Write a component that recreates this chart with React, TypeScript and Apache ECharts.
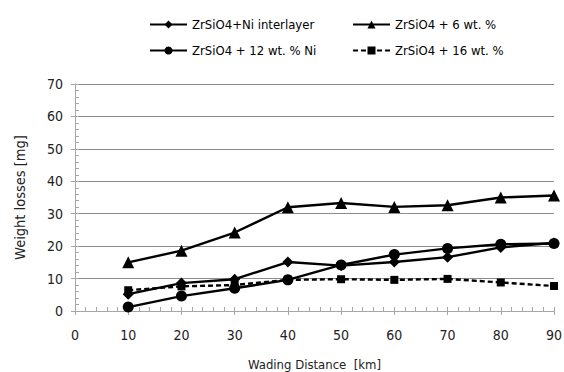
import React, { useEffect, useRef } from "react";
import * as echarts from "echarts";

const distances = [10, 20, 30, 40, 50, 60, 70, 80, 90];
const niInterlayer = [5.2, 8.6, 9.8, 15.1, 14.0, 15.1, 16.6, 19.6, 21.0];
const wt6 = [15.0, 18.6, 24.2, 32.0, 33.3, 32.1, 32.6, 35.0, 35.6];
const wt12Ni = [1.2, 4.6, 7.0, 9.6, 14.2, 17.4, 19.3, 20.6, 20.8];
const wt16 = [6.4, 7.6, 8.0, 9.6, 9.8, 9.6, 9.9, 8.8, 7.7];

const names = [
  "ZrSiO4+Ni interlayer",
  "ZrSiO4 + 6 wt. %",
  "ZrSiO4 + 12 wt. % Ni",
  "ZrSiO4 + 16 wt. %",
];

const FONT = "'Liberation Sans Narrow', 'DejaVu Sans Condensed', 'Liberation Sans', sans-serif";

export default function App() {
  const ref = useRef<HTMLDivElement>(null);
  useEffect(() => {
    if (!ref.current) return;
    const chart = echarts.init(ref.current, undefined, { renderer: "svg" });
    const pts = (arr: number[]) => distances.map((d, i) => [d, arr[i]]);
    const mk = (name: string, data: number[], symbol: string, size: number, dashed = false) => ({
      type: "line",
      name,
      data: pts(data),
      symbol,
      symbolSize: size,
      showSymbol: true,
      lineStyle: { color: "#000", width: 2.4, type: dashed ? [5, 3] : "solid" },
      itemStyle: { color: "#000" },
      xAxisIndex: 0,
      yAxisIndex: 0,
    });
    const legendBase = {
      orient: "horizontal",
      itemWidth: 37,
      itemHeight: 10,
      itemGap: 4,
      textStyle: { fontFamily: FONT, fontSize: 13, color: "#000" },
    };
    const axisGray = "#a6a6a6";
    chart.setOption({
      animation: false,
      grid: { left: 75, right: 10, top: 84, bottom: 61, outerBoundsMode: "none", containLabel: false },
      legend: [
        { ...legendBase, left: 144, top: 13, data: [names[0]] },
        { ...legendBase, left: 347, top: 13, data: [names[1]] },
        { ...legendBase, left: 144, top: 39, data: [names[2]] },
        { ...legendBase, left: 347, top: 39, data: [names[3]] },
      ],
      xAxis: [
        {
          type: "value",
          min: 0,
          max: 90,
          interval: 10,
          name: "Wading Distance  [km]",
          nameLocation: "middle",
          nameGap: 47,
          nameTextStyle: { fontFamily: FONT, fontSize: 13, color: "#222" },
          axisLine: { lineStyle: { color: axisGray, width: 1 } },
          axisTick: { show: true, length: 4, lineStyle: { color: axisGray } },
          axisLabel: { fontFamily: FONT, fontSize: 14, color: "#222", margin: 17 },
          splitLine: { show: false },
        },
        {
          type: "value",
          min: 0,
          max: 90,
          interval: 10,
          position: "bottom",
          axisLine: { show: false },
          axisTick: { show: true, inside: true, length: 4, lineStyle: { color: axisGray } },
          minorTick: { show: true, splitNumber: 5, length: 4, lineStyle: { color: axisGray } },
          axisLabel: { show: false },
          splitLine: { show: false },
        },
      ],
      yAxis: [
        {
          type: "value",
          min: 0,
          max: 70,
          interval: 10,
          name: "Weight losses [mg]",
          nameLocation: "middle",
          nameGap: 48,
          nameTextStyle: { fontFamily: FONT, fontSize: 14.5, color: "#222" },
          axisLine: { show: true, lineStyle: { color: axisGray, width: 1 } },
          axisTick: { show: true, length: 4, lineStyle: { color: axisGray } },
          axisLabel: { fontFamily: FONT, fontSize: 14, color: "#222", margin: 12 },
          splitLine: { show: true, lineStyle: { color: "#8c8c8c", width: 1 } },
        },
        {
          type: "value",
          min: 0,
          max: 70,
          interval: 10,
          position: "left",
          axisLine: { show: false },
          axisTick: { show: true, inside: true, length: 4, lineStyle: { color: axisGray } },
          minorTick: { show: true, splitNumber: 5, length: 4, lineStyle: { color: axisGray } },
          axisLabel: { show: false },
          splitLine: { show: false },
        },
      ],
      series: [
        mk(names[0], niInterlayer, "diamond", 11),
        mk(names[1], wt6, "triangle", 12),
        mk(names[2], wt12Ni, "circle", 11),
        mk(names[3], wt16, "rect", 8, true),
      ],
    });
    return () => chart.dispose();
  }, []);
  return (
    <div
      ref={ref}
      style={{ position: "absolute", left: 0, top: 0, width: 564, height: 372 }}
    />
  );
}
